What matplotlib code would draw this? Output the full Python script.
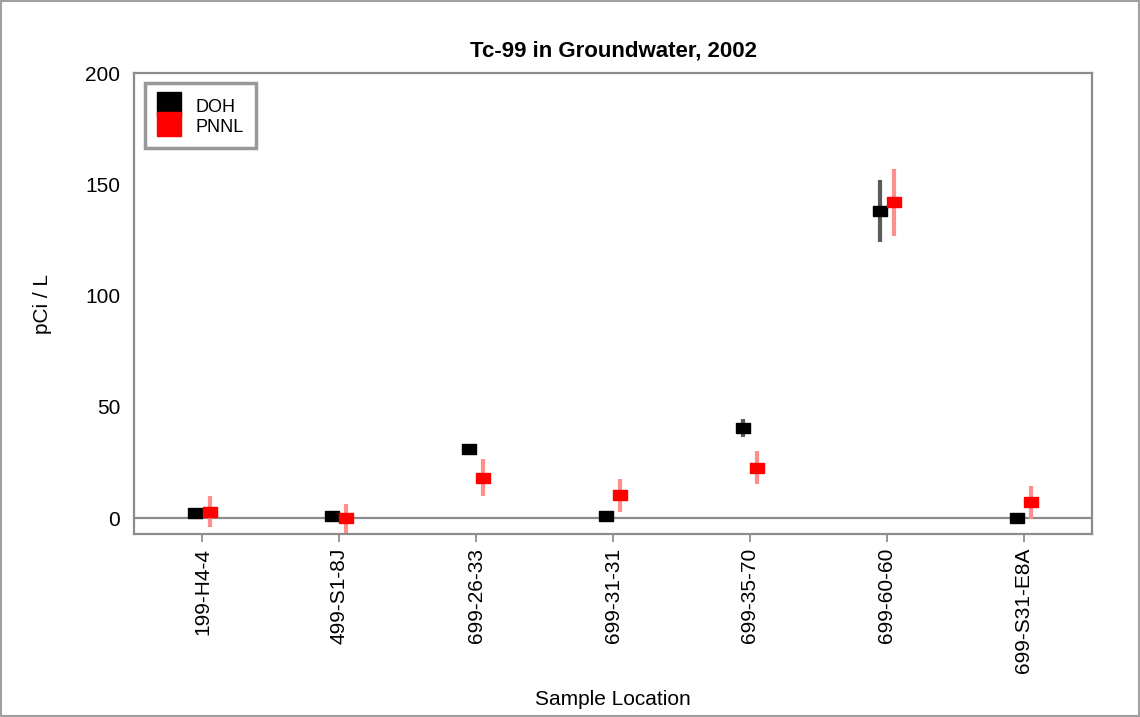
import matplotlib
matplotlib.use('Agg')
import matplotlib.pyplot as plt
from matplotlib.lines import Line2D
from matplotlib.patches import Rectangle
import numpy as np

plt.rcParams['font.family'] = ['Liberation Sans', 'DejaVu Sans']

locations = ['199-H4-4', '499-S1-8J', '699-26-33', '699-31-31',
             '699-35-70', '699-60-60', '699-S31-E8A']
doh_values = [2.2, 1.1, 30.8, 0.7, 40.5, 138.0, 0.2]
doh_errors = [1.0, 0.5, 1.5, 0.5, 4.0, 14.0, 1.5]
pnnl_values = [2.8, -0.2, 18.2, 10.3, 22.5, 142.0, 7.0]
pnnl_errors = [7.0, 6.5, 8.3, 7.4, 7.4, 15.0, 7.4]

# flat rectangle marker for the result points
rect_marker = [(-0.7, -0.5), (0.7, -0.5), (0.7, 0.5), (-0.7, 0.5), (-0.7, -0.5)]

fig = plt.figure(figsize=(11.4, 7.17), dpi=100)
ax = fig.add_axes([0.1175, 0.2552, 0.8405, 0.6428])

x = np.arange(len(locations))
offset = 0.052
grey = '#8c8c8c'

ax.axhline(0, color=grey, lw=1.6, zorder=1)

ax.errorbar(x - offset, doh_values, yerr=doh_errors, fmt='none',
            ecolor='#5a5a5a', elinewidth=3, capsize=0, zorder=2)
ax.errorbar(x + offset, pnnl_values, yerr=pnnl_errors, fmt='none',
            ecolor='#ff8f8f', elinewidth=3, capsize=0, zorder=2)
ax.plot(x - offset, doh_values, ls='none', marker=rect_marker,
        markersize=10.2, color='black', zorder=3)
ax.plot(x + offset, pnnl_values, ls='none', marker=rect_marker,
        markersize=10.2, color='red', zorder=3)

ax.set_xlim(-0.5, len(locations) - 0.5)
ax.set_ylim(-7.2, 200)
ax.set_yticks([0, 50, 100, 150, 200])
ax.set_xticks(x)
ax.set_xticklabels(locations, rotation=90, fontsize=15)
ax.tick_params(axis='y', length=0, pad=10, labelsize=15)
ax.tick_params(axis='x', length=6, width=1.3, color=grey, pad=4)

for spine in ax.spines.values():
    spine.set_color(grey)
    spine.set_linewidth(1.6)

ax.set_title('Tc-99 in Groundwater, 2002', fontsize=16, fontweight='bold', pad=12)
ax.set_ylabel('pCi / L', fontsize=15, labelpad=24)
ax.set_xlabel('Sample Location', fontsize=15, labelpad=12)

handles = [
    Line2D([], [], ls='none', marker='s', markersize=17, color='black'),
    Line2D([], [], ls='none', marker='s', markersize=17, color='red'),
]
leg = ax.legend(handles, ['DOH', 'PNNL'], loc='upper left',
                bbox_to_anchor=(11 / 958, 1 - 10 / 461), borderaxespad=0,
                fontsize=13, labelspacing=0, handleheight=1.3,
                handlelength=1.3, handletextpad=0.8, borderpad=0.7,
                fancybox=False, framealpha=1)
leg.get_frame().set_edgecolor('#999999')
leg.get_frame().set_linewidth(2.5)

# outer border around the whole figure
fig.patches.append(Rectangle((0.001, 0.001), 0.998, 0.998, transform=fig.transFigure,
                             fill=False, edgecolor='#a0a0a0', lw=1.5))

fig.savefig('out.png', dpi=100)
